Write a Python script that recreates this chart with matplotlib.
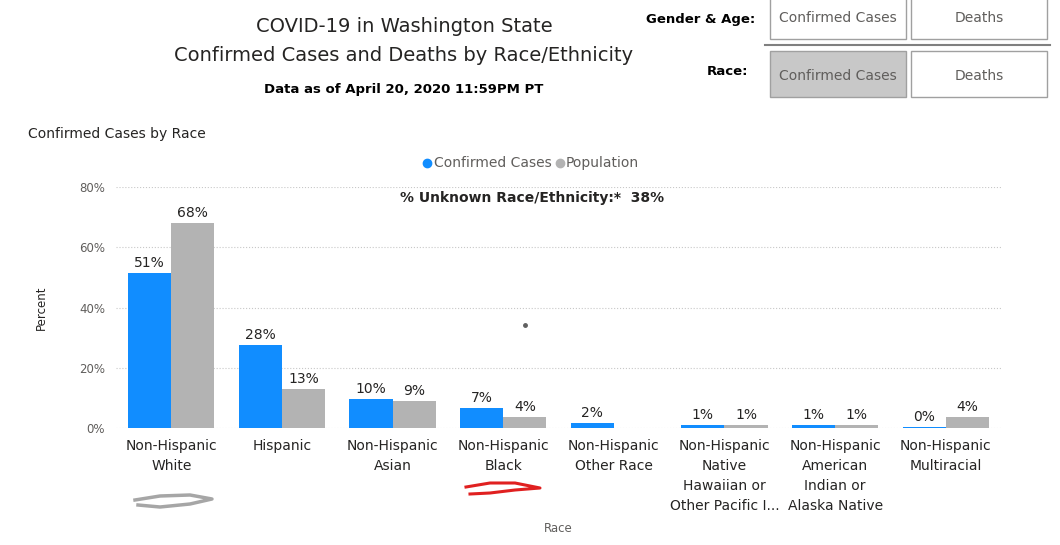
import matplotlib.pyplot as plt
from matplotlib.patches import Rectangle, Circle
import numpy as np

categories = ['Non-Hispanic\nWhite', 'Hispanic', 'Non-Hispanic\nAsian', 'Non-Hispanic\nBlack',
              'Non-Hispanic\nOther Race', 'Non-Hispanic\nNative\nHawaiian or\nOther Pacific I...',
              'Non-Hispanic\nAmerican\nIndian or\nAlaska Native', 'Non-Hispanic\nMultiracial']
cases = [51.4, 27.5, 9.6, 6.6, 1.7, 1.0, 1.0, 0.3]
population = [68.0, 13.0, 9.0, 3.7, 0.0, 1.0, 1.0, 3.7]
case_labels = ['51%', '28%', '10%', '7%', '2%', '1%', '1%', '0%']
pop_labels = ['68%', '13%', '9%', '4%', '', '1%', '1%', '4%']

fig = plt.figure(figsize=(10.6, 5.45), dpi=100)
ax = fig.add_axes([116/1060, 1-428/545, 885/1060, 241/545])
x = np.arange(len(categories))
w = 0.39
b1 = ax.bar(x - w/2, cases, w, color='#118DFF')
b2 = ax.bar(x + w/2, population, w, color='#B3B3B3')
for r, t in zip(b1, case_labels):
    ax.text(r.get_x()+r.get_width()/2, r.get_height()+1, t, ha='center', va='bottom', fontsize=10, color='#252423')
for r, t in zip(b2, pop_labels):
    ax.text(r.get_x()+r.get_width()/2, r.get_height()+1, t, ha='center', va='bottom', fontsize=10, color='#252423')
ax.set_xlim(-0.5, len(categories)-0.5)
ax.set_ylim(0, 80)
ax.set_yticks([0, 20, 40, 60, 80])
ax.set_yticklabels(['0%', '20%', '40%', '60%', '80%'], fontsize=8.5, color='#605E5C')
ax.set_xticks(x)
ax.set_xticklabels(categories, fontsize=10, color='#252423', va='top', linespacing=1.55)
ax.tick_params(length=0, pad=8)
ax.grid(axis='y', linestyle=':', color='#C8C8C8')
ax.set_axisbelow(True)
for s in ax.spines.values():
    s.set_visible(False)
ax.set_ylabel('Percent', fontsize=8.5, color='#252423', labelpad=22)
fig.text(558/1060, 1-528/545, 'Race', ha='center', va='center', fontsize=8.5, color='#605E5C')

fig.text(404/1060, 1-26/545, 'COVID-19 in Washington State', ha='center', va='center', fontsize=14, color='#252423')
fig.text(404/1060, 1-55/545, 'Confirmed Cases and Deaths by Race/Ethnicity', ha='center', va='center', fontsize=14, color='#252423')
fig.text(404/1060, 1-90/545, 'Data as of April 20, 2020 11:59PM PT', ha='center', va='center', fontsize=9.5, fontweight='bold')
fig.text(28/1060, 1-134/545, 'Confirmed Cases by Race', ha='left', va='center', fontsize=10, color='#252423')
fig.text(532/1060, 1-198/545, '% Unknown Race/Ethnicity:*  38%', ha='center', va='center', fontsize=10, fontweight='bold', color='#252423')

# legend
fig.add_artist(plt.Line2D([427/1060], [1-163/545], marker='o', ms=6, color='#118DFF'))
fig.text(434/1060, 1-163/545, 'Confirmed Cases', ha='left', va='center', fontsize=10, color='#605E5C')
fig.add_artist(plt.Line2D([560/1060], [1-163/545], marker='o', ms=6, color='#B3B3B3'))
fig.text(566/1060, 1-163/545, 'Population', ha='left', va='center', fontsize=10, color='#605E5C')

# buttons
fig.text(755/1060, 1-20/545, 'Gender & Age:', ha='right', va='center', fontsize=9.5, fontweight='bold')
fig.text(748/1060, 1-71/545, 'Race:', ha='right', va='center', fontsize=9.5, fontweight='bold')
for (x0, y0, lab, fc) in [(770, -7, 'Confirmed Cases', 'white'), (911, -7, 'Deaths', 'white'),
                          (770, 51, 'Confirmed Cases', '#C8C8C8'), (911, 51, 'Deaths', 'white')]:
    fig.patches.append(Rectangle((x0/1060, 1-(y0+46)/545), 136/1060, 46/545, transform=fig.transFigure,
                                 facecolor=fc, edgecolor='#A0A0A0', lw=1))
    fig.text((x0+68)/1060, 1-(y0+25)/545, lab, ha='center', va='center', fontsize=10, color='#605E5C')
fig.add_artist(plt.Line2D([765/1060, 1050/1060], [1-45/545, 1-45/545], color='#808080', lw=1.5))

# scribbles
fig.add_artist(plt.Line2D(np.array([135, 160, 190, 212, 190, 160, 138])/1060,
                          1-np.array([500, 496, 495, 499, 504, 507, 505])/545, color='#909090', lw=2.5, alpha=0.8))
fig.add_artist(plt.Line2D(np.array([466, 490, 515, 540, 515, 490, 470])/1060,
                          1-np.array([487, 483, 483, 488, 490, 493, 494])/545, color='#E02020', lw=2.2))
fig.add_artist(plt.Line2D([525/1060], [1-325/545], marker='o', ms=2.5, color='#606060'))

fig.savefig('out.png', dpi=100)
